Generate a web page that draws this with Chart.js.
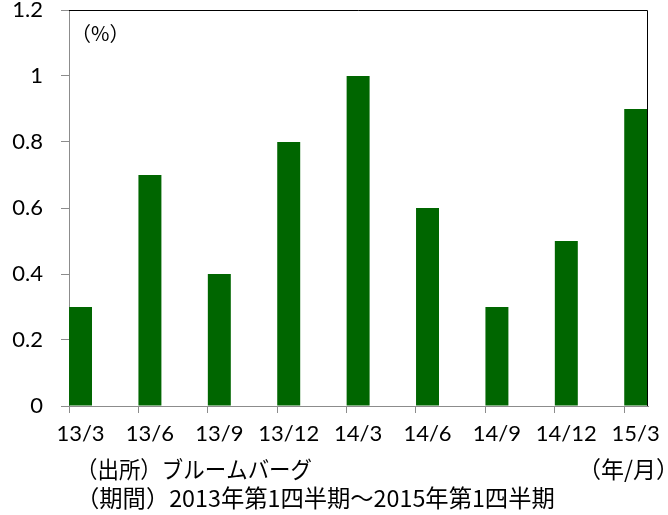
<!DOCTYPE html>
<html><head><meta charset="utf-8">
<script src="https://cdn.jsdelivr.net/npm/chart.js@4"></script>
<style>html,body{margin:0;padding:0;background:#fff}#wrap{width:668px;height:515px;position:relative}</style>
</head><body><div id="wrap"><canvas id="c" width="668" height="515"></canvas></div>
<script>
const categories = ['13/3','13/6','13/9','13/12','14/3','14/6','14/9','14/12','15/3'];
const values = [0.3, 0.7, 0.4, 0.8, 1.0, 0.6, 0.3, 0.5, 0.9];
const yTicks = [0, 0.2, 0.4, 0.6, 0.8, 1, 1.2];
const unitLabel = '（%）';
const sourceNote = '（出所）ブルームバーグ';
const periodNote = '（期間）2013年第1四半期～2015年第1四半期';
const axisNote = '（年/月）';

const LATIN = 'Lato, "Noto Sans", sans-serif';
const CJK = '"Noto Sans CJK JP", "Noto Sans", sans-serif';
const GREEN = '#006600';
const AXIS_GRAY = '#8c8c8c';
const TICK_SHIFT = 0.166; // tick mark sits at left edge of each bar

const overlay = {
  id: 'overlay',
  afterDraw(chart) {
    const {ctx, chartArea: a} = chart;
    ctx.save();
    ctx.strokeStyle = '#000';
    ctx.lineWidth = 1;
    ctx.beginPath();
    ctx.moveTo(a.left, a.top + 0.5);
    ctx.lineTo(a.right - 0.5, a.top + 0.5);
    ctx.lineTo(a.right - 0.5, a.bottom);
    ctx.stroke();
    ctx.fillStyle = '#000';
    ctx.textBaseline = 'middle';
    ctx.textAlign = 'left';
    ctx.font = '20px ' + CJK;
    ctx.fillText(unitLabel, a.left + 2, a.top + 23);
    ctx.font = '23px ' + CJK;
    ctx.fillText(sourceNote, 76, 469, 236);
    ctx.font = '23.3px ' + CJK;
    ctx.fillText(periodNote, 76, 498, 500);
    ctx.font = '23px ' + CJK;
    ctx.textAlign = 'right';
    ctx.fillText(axisNote, 679, 469);
    ctx.restore();
  }
};

new Chart(document.getElementById('c'), {
  type: 'bar',
  data: {
    datasets: [{
      data: values.map((v, i) => ({x: i, y: v})),
      backgroundColor: GREEN,
      borderWidth: 0,
      categoryPercentage: 1,
      barPercentage: 0.331
    }]
  },
  options: {
    responsive: false,
    animation: false,
    devicePixelRatio: 1,
    layout: {padding: {top: 10, right: 20, left: 0, bottom: 0}},
    plugins: {legend: {display: false}, tooltip: {enabled: false}, title: {display: false}},
    scales: {
      x: {
        type: 'linear',
        offset: false,
        min: -TICK_SHIFT,
        max: categories.length - 1 + 0.177,
        afterBuildTicks: s => { s.ticks = categories.map((c, i) => ({value: i - TICK_SHIFT})); },
        afterFit: s => { s.height = 109; s.paddingLeft = 0; s.paddingRight = 0; },
        ticks: {
          callback: (v, i) => categories[i],
          labelOffset: 11.5,
          autoSkip: false,
          maxRotation: 0,
          font: {family: LATIN, size: 22},
          color: '#000',
          padding: 8
        },
        grid: {display: true, offset: false, drawOnChartArea: false, drawTicks: true, tickLength: 7, color: AXIS_GRAY},
        border: {color: AXIS_GRAY, width: 1}
      },
      y: {
        min: 0,
        max: 1.2,
        afterBuildTicks: s => { s.ticks = yTicks.map(v => ({value: v})); },
        afterFit: s => { s.width = 69; s.paddingTop = 0; s.paddingBottom = 0; },
        ticks: {
          callback: v => String(Number(v.toFixed(1))),
          font: {family: LATIN, size: 22},
          color: '#000',
          padding: 18
        },
        grid: {display: true, drawOnChartArea: false, drawTicks: true, tickLength: 8, color: AXIS_GRAY},
        border: {color: AXIS_GRAY, width: 1}
      }
    }
  },
  plugins: [overlay]
});
</script></body></html>
